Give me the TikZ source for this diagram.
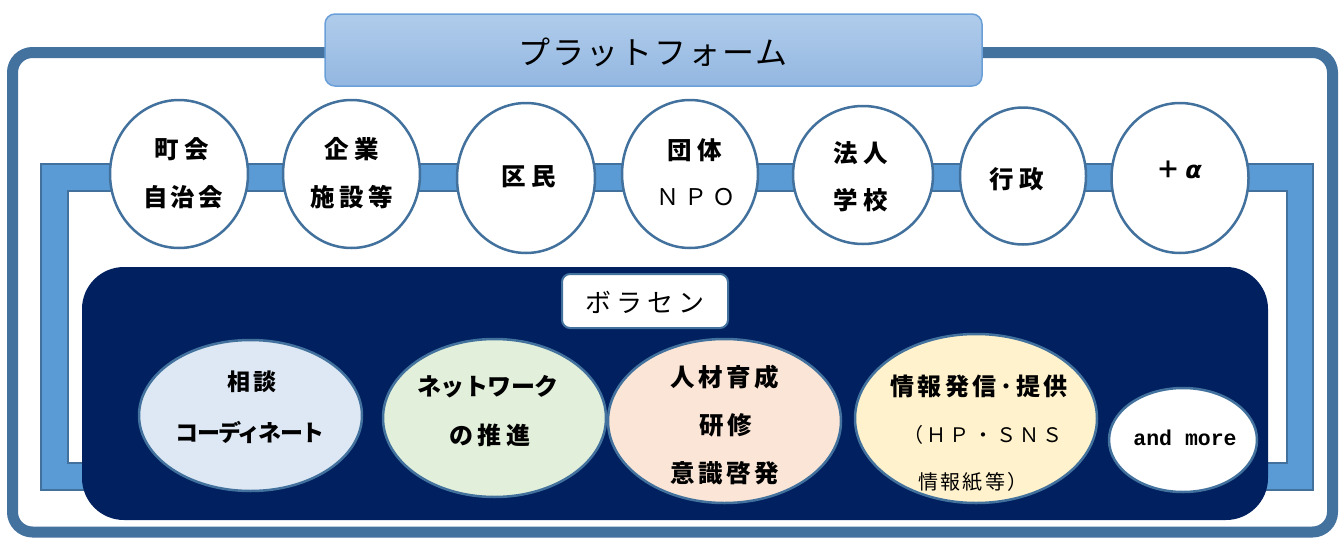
\documentclass[tikz,border=0pt]{standalone}
\usepackage{fontspec}
\setmainfont{Noto Sans CJK JP}
\newfontfamily\jpS{Noto Sans CJK JP}
\newfontfamily\monoB{Liberation Mono}
\newfontfamily\alphaF{DejaVu Sans}
\usetikzlibrary{shapes.geometric}
\definecolor{frameC}{HTML}{44729E}
\definecolor{bandC}{HTML}{5B9BD5}
\definecolor{edgeC}{HTML}{41719C}
\definecolor{navyC}{HTML}{002060}
\definecolor{platTop}{HTML}{B0CCEB}
\definecolor{platBot}{HTML}{93B7E1}
\definecolor{platEdge}{HTML}{6A9FD8}
\definecolor{blueE}{HTML}{DEE8F5}
\definecolor{greenE}{HTML}{E2EFDA}
\definecolor{orangeE}{HTML}{FBE5D6}
\definecolor{yellowE}{HTML}{FFF2CC}
\newcommand{\ls}[1]{\addfontfeature{LetterSpace=#1}}
\tikzset{
  org/.style={ellipse, draw=edgeC, line width=2.5pt, fill=white, inner sep=0pt},
  act/.style={ellipse, draw=edgeC, line width=2.5pt, inner sep=0pt},
  ctext/.style={font=\jpS\bfseries\fontsize{24.5}{24.5}\selectfont\ls{13}, inner sep=0pt, text=black},
  btext/.style={inner sep=0pt, text=black},
}
\begin{document}
\begin{tikzpicture}[x=1pt,y=-1pt]
\useasboundingbox (0,0) rectangle (1341,538);
% outer frame
\draw[line width=11pt, frameC, rounded corners=20pt] (12.5,52.5) rectangle (1332.5,532);
% platform title
\node[draw=platEdge, line width=1.5pt, top color=platTop, bottom color=platBot, rounded corners=10pt,
      minimum width=657pt, minimum height=72pt, inner sep=0pt] (plat) at (653.5,50) {};
\node[font=\jpS\fontsize{32}{32}\selectfont\ls{6}, inner sep=0pt] (platT) at (653,52) {プラットフォーム};
% band
\path[fill=bandC, draw=edgeC, line width=1.2pt, even odd rule]
  (41,164) rectangle (1313,490) (68,191) rectangle (1287,463);
% navy panel
\node[fill=navyC, rounded corners=42pt, minimum width=1186pt, minimum height=253pt, inner sep=0pt] (navy) at (675,393.5) {};
% top circles
\node[org, minimum width=138pt, minimum height=148pt] (c1) at (179,174) {};
\node[org, minimum width=137pt, minimum height=148pt] (c2) at (351.5,174) {};
\node[org, minimum width=138pt, minimum height=150pt] (c3) at (526,178) {};
\node[org, minimum width=136pt, minimum height=148pt] (c4) at (690,174) {};
\node[org, minimum width=140pt, minimum height=138pt] (c5) at (863,175) {};
\node[org, minimum width=126pt, minimum height=137pt] (c6) at (1023,176) {};
\node[org, minimum width=137pt, minimum height=150pt] (c7) at (1180,178) {};
\node[ctext, font=\jpS\bfseries\fontsize{24.5}{24.5}\selectfont\ls{22}] (t1a) at (182,149) {町会};
\node[ctext] (t1b) at (183,197) {自治会};
\node[ctext, font=\jpS\bfseries\fontsize{24.5}{24.5}\selectfont\ls{22}] (t2a) at (352,149) {企業};
\node[ctext, font=\jpS\bfseries\fontsize{24.5}{24.5}\selectfont\ls{18}] (t2b) at (352,197) {施設等};
\node[ctext, font=\jpS\bfseries\fontsize{24.5}{24.5}\selectfont\ls{22}] (t3) at (529,177) {区民};
\node[ctext, font=\jpS\bfseries\fontsize{24.5}{24.5}\selectfont\ls{22}] (t4a) at (695,150) {団体};
\node[btext, font=\jpS\fontsize{23}{23}\selectfont\ls{22}] (t4b) at (696,197) {ＮＰＯ};
\node[ctext, font=\jpS\bfseries\fontsize{24.5}{24.5}\selectfont\ls{22}] (t5a) at (861,153) {法人};
\node[ctext, font=\jpS\bfseries\fontsize{24.5}{24.5}\selectfont\ls{22}] (t5b) at (861,200) {学校};
\node[ctext, font=\jpS\bfseries\fontsize{24.5}{24.5}\selectfont\ls{22}] (t6) at (1017,179) {行政};
\node[inner sep=0pt, font=\fontsize{24}{24}\selectfont] (t7) at (1179,170) {\textbf{＋}\hspace{5pt}{\alphaF\bfseries\itshape α}};
% boracen label
\node[draw=edgeC, line width=2pt, fill=white, rounded corners=8pt, minimum width=166pt, minimum height=54pt, inner sep=0pt] (bora) at (645,301) {};
\node[font=\jpS\fontsize{26}{26}\selectfont\ls{20}, inner sep=0pt] (boraT) at (645,302) {ボラセン};
% activity ellipses
\node[act, fill=blueE, minimum width=223pt, minimum height=151pt] (e1) at (250.5,415.5) {};
\node[act, fill=greenE, minimum width=223pt, minimum height=158pt] (e2) at (494.5,418) {};
\node[act, fill=orangeE, minimum width=233pt, minimum height=164pt] (e3) at (724.5,421) {};
\node[act, fill=yellowE, minimum width=242pt, minimum height=169pt] (e4) at (976,418.5) {};
\node[act, fill=white, minimum width=148pt, minimum height=104pt] (e5) at (1183,440) {};
\node[btext, font=\jpS\bfseries\fontsize{23}{23}\selectfont\ls{13}] (s1a) at (252,382) {相談};
\node[btext, font=\jpS\bfseries\fontsize{23}{23}\selectfont\ls{-8}] (s1b) at (250,432) {コーディネート};
\node[btext, font=\jpS\bfseries\fontsize{24}{24}\selectfont\ls{-2}] (s2a) at (488,387) {ネットワーク};
\node[btext, font=\jpS\bfseries\fontsize{24}{24}\selectfont\ls{17}] (s2b) at (490,435) {の推進};
\node[btext, font=\jpS\bfseries\fontsize{24.5}{24.5}\selectfont\ls{14}] (s3a) at (725,377) {人材育成};
\node[btext, font=\jpS\bfseries\fontsize{24.5}{24.5}\selectfont\ls{14}] (s3b) at (726,425) {研修};
\node[btext, font=\jpS\bfseries\fontsize{24.5}{24.5}\selectfont\ls{14}] (s3c) at (725,473) {意識啓発};
\node[btext, font=\jpS\bfseries\fontsize{24}{24}\selectfont\ls{15}] (s4a) at (979,386) {情報発信･提供};
\node[btext, font=\jpS\fontsize{20}{20}\selectfont\ls{16}] (s4b) at (983,435) {（ＨＰ・ＳＮＳ};
\node[btext, font=\jpS\fontsize{20}{20}\selectfont\ls{12}] (s4c) at (973,482) {情報紙等）};
\node[inner sep=0pt, font=\monoB\bfseries\fontsize{21.5}{21.5}\selectfont] (s5) at (1185,438) {and more};
\end{tikzpicture}
\end{document}
